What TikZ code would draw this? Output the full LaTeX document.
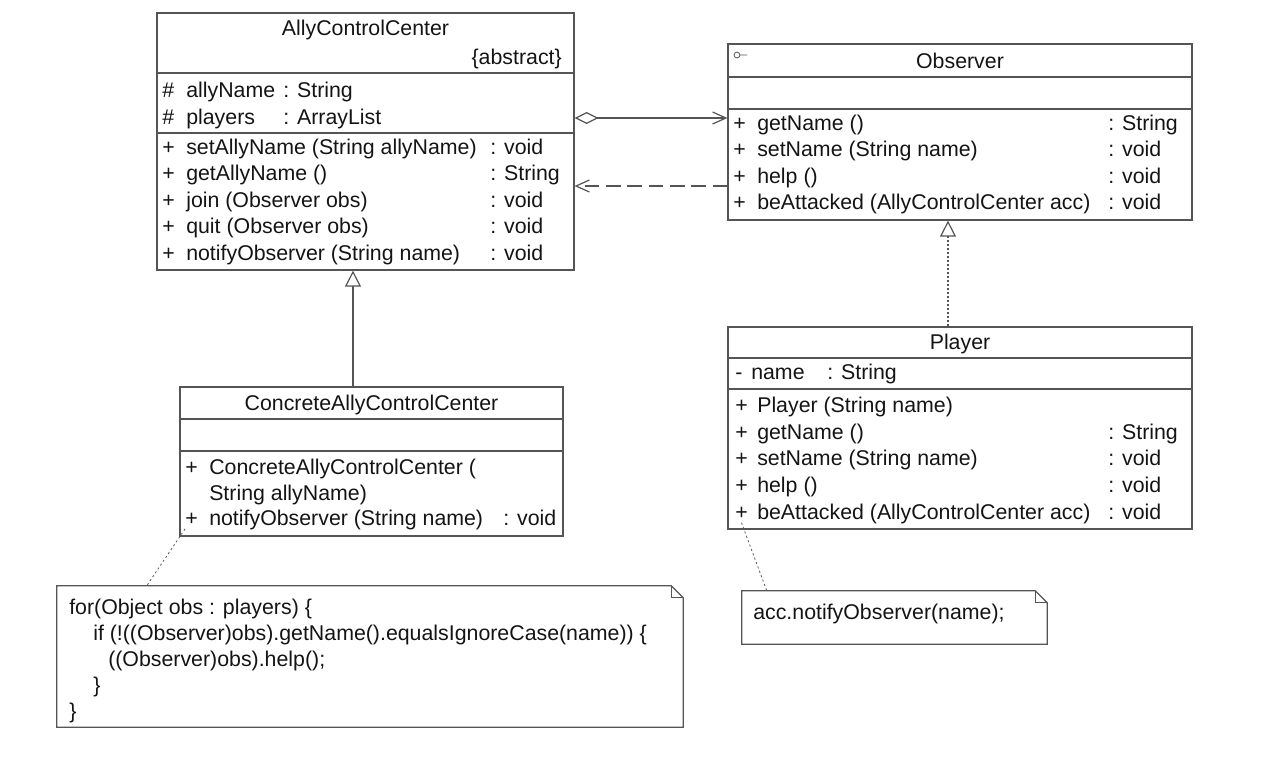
\documentclass[tikz,border=0pt]{standalone}
\usepackage{fontspec}
\setmainfont{Liberation Sans}
\usepackage{tikz}
\usetikzlibrary{positioning,calc,fit}
\usetikzlibrary{arrows.meta}
\definecolor{UmlLine}{RGB}{85,85,85}
\definecolor{UmlText}{RGB}{20,20,20}
\tikzset{
  cls/.style={draw=UmlLine,line width=.9pt,inner sep=0pt},
  sep/.style={draw=UmlLine,line width=.9pt},
  row/.style={anchor=west,inner sep=0pt,text height=13.5pt,text depth=2.5pt,text=UmlText},
  ttl/.style={row,anchor=center},
}
\tikzset{agg/.style={draw=UmlLine,line width=.9pt,{Diamond[open,length=18pt,width=9pt]}-{Straight Barb[length=10pt,width=9pt]}},
  dep/.style={draw=UmlLine,line width=.9pt,dash pattern=on 11pt off 5pt,-{Straight Barb[length=10pt,width=9pt]}},
  gen/.style={draw=UmlLine,line width=.9pt,-{Triangle[open,length=12pt,width=12pt,fill=white]}},
  real/.style={gen,dash pattern=on 1.5pt off 1.5pt},
  notelink/.style={draw=UmlLine,line width=.6pt,dash pattern=on 1.5pt off 2pt}}
\newcommand{\notebox}[1]{%
  \draw[sep] (#1.north west) -- ($(#1.north east)+(-9pt,0)$) -- ($(#1.north east)+(0,-9pt)$) -- (#1.south east) -- (#1.south west) -- cycle;
  \draw[sep,line width=.5pt] ($(#1.north east)+(-9pt,0)$) -- ($(#1.north east)+(-9pt,-9pt)$) -- ($(#1.north east)+(0,-9pt)$);}

\begin{document}
\begin{tikzpicture}[x=0.75pt,y=-0.75pt,font=\fontsize{16}{19.5}\selectfont]
\useasboundingbox (0,0) rectangle (1286,769);
% class boxes
\node[cls,fit={(157,13) (574,270)}] (acc) {};
\node[cls,fit={(728,44) (1192,220)}] (obs) {};
\node[cls,fit={(180,387) (563,536)}] (cacc) {};
\node[cls,fit={(728,327) (1192,529)}] (player) {};
\draw[sep] (157,73)--(574,73) (157,133)--(574,133);
\draw[sep] (728,77)--(1192,77) (728,109)--(1192,109);
\draw[sep] (180,419)--(563,419) (180,451)--(563,451);
\draw[sep] (728,358)--(1192,358) (728,389)--(1192,389);
\draw[UmlLine,line width=.6pt] (737,55) circle[radius=2.2pt] (740,55)--(747,55);

% AllyControlCenter
\node[ttl] (acct) at (365.5,28) {AllyControlCenter};
\node[row,anchor=east] (acca) at (562,57) {\{abstract\}};
\foreach \a/\t [count=\i from 0] in {allyName/String,players/ArrayList}{
  \node[row] (accav\i) at (162,{90+27*\i}) {\#};
  \node[row] (acca\i) at (186,{90+27*\i}) {\a};
  \node[row] (accat\i) at (283,{90+27*\i}) {: \t};}
\foreach \m/\r [count=\i from 0] in {{setAllyName (String allyName)}/void,{getAllyName ()}/String,{join (Observer obs)}/void,{quit (Observer obs)}/void,{notifyObserver (String name)}/void}{
  \node[row] (accv\i) at (162,{147+26.5*\i}) {+};
  \node[row] (accm\i) at (186,{147+26.5*\i}) {\m};
  \node[row] (accr\i) at (490,{147+26.5*\i}) {: \r};}

% Observer
\node[ttl] (obst) at (960,61) {Observer};
\foreach \m/\r [count=\i from 0] in {{getName ()}/String,{setName (String name)}/void,{help ()}/void,{beAttacked (AllyControlCenter acc)}/void}{
  \node[row] (obsv\i) at (733,{123+26.4*\i}) {+};
  \node[row] (obsm\i) at (757,{123+26.4*\i}) {\m};
  \node[row] (obsr\i) at (1108,{123+26.4*\i}) {: \r};}

% ConcreteAllyControlCenter
\node[ttl] (cacct) at (371.5,403) {ConcreteAllyControlCenter};
\node[row] (caccv0) at (185,467) {+};
\node[row] (caccm0) at (209,467) {ConcreteAllyControlCenter (};
\node[row] (caccm0b) at (209,493) {String allyName)};
\node[row] (caccv1) at (185,518) {+};
\node[row] (caccm1) at (209,518) {notifyObserver (String name)};
\node[row] (caccr1) at (503,518) {: void};

% Player
\node[ttl] (plt) at (960,342) {Player};
\node[row] (plav) at (735,372) {-};
\node[row] (pla) at (751,372) {name};
\node[row] (plat) at (827,372) {: String};
\foreach \m [count=\i from 0] in {{Player (String name)},{getName ()},{setName (String name)},{help ()},{beAttacked (AllyControlCenter acc)}}{
  \node[row] (plv\i) at (735,{405+26.7*\i}) {+};
  \node[row] (plm\i) at (757,{405+26.7*\i}) {\m};}
\foreach \r [count=\i] in {String,void,void,void}{\node[row] (plr\i) at (1108,{405+26.7*\i}) {: \r};}

% notes
\node[inner sep=0pt,fit={(57,586) (683,727)}] (cnote) {};
\notebox{cnote}
\foreach \t/\dx [count=\i from 0] in {{for(Object obs : players) \{}/0,{if (!((Observer)obs).getName().equalsIgnoreCase(name)) \{}/24,{((Observer)obs).help();}/39,{\}}/24,{\}}/0}{
  \node[row] (cnl\i) at ({69+\dx},{607+26*\i}) {\t};}
\node[inner sep=0pt,fit={(742,591) (1047,644)}] (anote) {};
\notebox{anote}
\node[row] (anl) at (753,612) {acc.notifyObserver(name);};

% connectors
\coordinate (aggy) at (0,118);
\coordinate (depy) at (0,186);
\coordinate (genx) at (353,0);
\coordinate (realx) at (948,0);
\draw[agg] (acc.east |- aggy) -- (obs.west |- aggy);
\draw[dep] (obs.west |- depy) -- (acc.east |- depy);
\draw[gen] (cacc.north -| genx) -- (acc.south -| genx);
\draw[real] (player.north -| realx) -- (obs.south -| realx);
\draw[notelink] (caccv1.south west) -- ($(cnote.north west)+(90,0)$);
\draw[notelink] (plv4.south) -- ($(anote.north west)+(25,0)$);
\end{tikzpicture}
\end{document}
